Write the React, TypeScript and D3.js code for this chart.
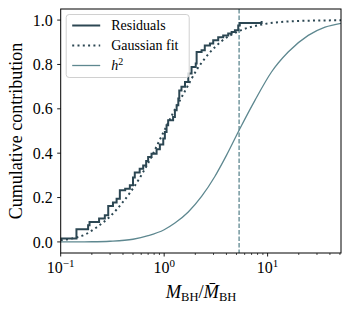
import React, { useEffect, useRef } from 'react'
import * as d3 from 'd3'

// empirical CDF of residuals (step positions, value after step)
const residualX = [0.09, 0.142, 0.184, 0.19, 0.235, 0.267, 0.288, 0.32, 0.347, 0.373, 0.42, 0.466, 0.5, 0.52, 0.58, 0.627, 0.67, 0.7, 0.755, 0.845, 0.909, 0.98, 1.016, 1.055, 1.093, 1.22, 1.27, 1.32, 1.37, 1.4, 1.47, 1.59, 1.71, 1.84, 2.02, 2.06, 2.3, 2.47, 2.77, 2.98, 3.33, 3.72, 4.16, 4.49, 4.83, 5.2, 5.38, 8.75]
const residualY = [0.015, 0.057, 0.075, 0.09, 0.105, 0.12, 0.162, 0.178, 0.195, 0.233, 0.24, 0.255, 0.29, 0.313, 0.33, 0.345, 0.365, 0.383, 0.398, 0.418, 0.439, 0.466, 0.495, 0.526, 0.548, 0.563, 0.593, 0.616, 0.646, 0.683, 0.7, 0.721, 0.759, 0.788, 0.804, 0.856, 0.864, 0.886, 0.894, 0.909, 0.923, 0.931, 0.939, 0.946, 0.954, 0.976, 0.987, 0.996]

// gaussian fit
const fitX = [0.1, 0.13, 0.17, 0.22, 0.3, 0.4, 0.54, 0.7, 0.94, 1.2, 1.59, 2.06, 2.66, 3.59, 5.38, 8.4, 15, 30, 52]
const fitY = [0.008, 0.016, 0.032, 0.064, 0.115, 0.18, 0.265, 0.355, 0.475, 0.575, 0.68, 0.775, 0.845, 0.905, 0.952, 0.978, 0.993, 0.998, 0.999]

// h^2 curve
const h2X = [0.1, 0.2, 0.3, 0.5, 0.7, 1.0, 1.27, 1.71, 2.3, 3.09, 4.0, 5.39, 7.54, 10.9, 15.8, 24.7, 35.9, 52]
const h2Y = [0.0, 0.0008, 0.003, 0.012, 0.028, 0.055, 0.085, 0.135, 0.205, 0.295, 0.39, 0.51, 0.638, 0.766, 0.856, 0.931, 0.968, 0.986]

const medianX = 5.3
const xMajor = [0.1, 1, 10]
const xMajorExp = ['\u22121', '0', '1']
const xMinor = [0.2, 0.3, 0.4, 0.5, 0.6, 0.7, 0.8, 0.9, 2, 3, 4, 5, 6, 7, 8, 9, 20, 30, 40, 50]
const yTicks = [0, 0.2, 0.4, 0.6, 0.8, 1.0]

const dark = '#2c4753'
const light = '#5e8890'
const font = 'Liberation Serif, DejaVu Serif, serif'

export default function App() {
  const ref = useRef<SVGSVGElement>(null)

  useEffect(() => {
    const W = 350, H = 310
    const margin = { top: 9, right: 9, bottom: 57, left: 60.7 }
    const width = W - margin.left - margin.right
    const height = H - margin.top - margin.bottom

    const svg = d3.select(ref.current)
    svg.selectAll('*').remove()

    const x = d3.scaleLog().domain([0.1, 51.2]).range([0, width])
    const y = d3.scaleLinear().domain([-0.05, 1.05]).range([height, 0])

    svg.append('defs').append('clipPath').attr('id', 'plotclip')
      .append('rect').attr('width', width).attr('height', height)

    const g = svg.append('g').attr('transform', `translate(${margin.left},${margin.top})`)
    const plot = g.append('g').attr('clip-path', 'url(#plotclip)')

    // h^2
    plot.append('path')
      .attr('d', d3.line<number>().x((d, i) => x(h2X[i])).y(d => y(d)).curve(d3.curveMonotoneX)(h2Y))
      .attr('fill', 'none').attr('stroke', light).attr('stroke-width', 1.3)

    // vertical dashed
    plot.append('line')
      .attr('x1', x(medianX)).attr('x2', x(medianX)).attr('y1', 0).attr('y2', height)
      .attr('stroke', light).attr('stroke-width', 1.3).attr('stroke-dasharray', '4.5,2')

    // gaussian fit
    plot.append('path')
      .attr('d', d3.line<number>().x((d, i) => x(fitX[i])).y(d => y(d)).curve(d3.curveMonotoneX)(fitY))
      .attr('fill', 'none').attr('stroke', dark).attr('stroke-width', 2)
      .attr('stroke-dasharray', '2,3.3')

    // residuals
    plot.append('path')
      .attr('d', d3.line<number>().x((d, i) => x(residualX[i])).y(d => y(d)).curve(d3.curveStepAfter)(residualY))
      .attr('fill', 'none').attr('stroke', dark).attr('stroke-width', 2)

    // axes
    const xAxis = g.append('g').attr('transform', `translate(0,${height})`)
    xAxis.selectAll('.major').data(xMajor).enter().append('line')
      .attr('x1', d => x(d)).attr('x2', d => x(d)).attr('y1', 0).attr('y2', 3.5)
      .attr('stroke', '#000').attr('stroke-width', 0.9)
    xAxis.selectAll('.minor').data(xMinor).enter().append('line')
      .attr('x1', d => x(d)).attr('x2', d => x(d)).attr('y1', 0).attr('y2', 2)
      .attr('stroke', '#000').attr('stroke-width', 0.7)
    const xl = xAxis.selectAll('.lab').data(xMajor).enter().append('text')
      .attr('x', d => x(d)).attr('y', 20).attr('text-anchor', 'middle')
      .attr('font-family', font).attr('font-size', 16)
    xl.append('tspan').text('10')
    xl.append('tspan').attr('dy', -6).attr('font-size', 11).text((d, i) => xMajorExp[i])

    const yAxis = g.append('g')
    yAxis.selectAll('line').data(yTicks).enter().append('line')
      .attr('x1', -3.5).attr('x2', 0).attr('y1', d => y(d)).attr('y2', d => y(d))
      .attr('stroke', '#000').attr('stroke-width', 0.9)
    yAxis.selectAll('text').data(yTicks).enter().append('text')
      .attr('x', -8).attr('y', d => y(d)).attr('dy', '0.35em').attr('text-anchor', 'end')
      .attr('font-family', font).attr('font-size', 16)
      .text(d => d3.format('.1f')(d))

    // frame
    g.append('rect').attr('width', width).attr('height', height)
      .attr('fill', 'none').attr('stroke', '#000').attr('stroke-width', 1)

    // axis labels
    svg.append('text')
      .attr('transform', `translate(22,${margin.top + height / 2}) rotate(-90)`)
      .attr('text-anchor', 'middle').attr('font-family', font).attr('font-size', 18)
      .text('Cumulative contribution')

    const xt = svg.append('text').attr('x', 201).attr('y', 298).attr('text-anchor', 'middle')
      .attr('font-family', font).attr('font-size', 18.5)
    xt.append('tspan').attr('font-style', 'italic').text('M')
    xt.append('tspan').attr('font-size', 12.5).attr('dy', 3).text('BH')
    xt.append('tspan').attr('dy', -3).text('/')
    xt.append('tspan').attr('font-style', 'italic').text('M\u0304')
    xt.append('tspan').attr('font-size', 12.5).attr('dy', 3).text('BH')

    // legend
    const lg = g.append('g').attr('transform', 'translate(5.5,5.5)')
    lg.append('rect').attr('width', 123).attr('height', 63).attr('rx', 3)
      .attr('fill', 'rgba(255,255,255,0.8)').attr('stroke', '#d0d0d0').attr('stroke-width', 1)
    const items = [
      { label: 'Residuals', color: dark, w: 2, dash: null },
      { label: 'Gaussian fit', color: dark, w: 2, dash: '2,3.3' },
      { label: 'h', color: light, w: 1.3, dash: null },
    ]
    items.forEach((it, i) => {
      const yy = 11 + i * 20
      lg.append('line').attr('x1', 6).attr('x2', 34).attr('y1', yy).attr('y2', yy)
        .attr('stroke', it.color).attr('stroke-width', it.w)
        .attr('stroke-dasharray', it.dash)
      const t = lg.append('text').attr('x', 45).attr('y', yy).attr('dy', '0.35em')
        .attr('font-family', font).attr('font-size', 14)
      if (i === 2) {
        t.append('tspan').attr('font-style', 'italic').text('h')
        t.append('tspan').attr('font-size', 10).attr('dy', -5).text('2')
      } else {
        t.text(it.label)
      }
    })
  }, [])

  return (
    <svg ref={ref} width={350} height={310}
      style={{ position: 'absolute', left: 0, top: 0, background: '#fff' }} />
  )
}
